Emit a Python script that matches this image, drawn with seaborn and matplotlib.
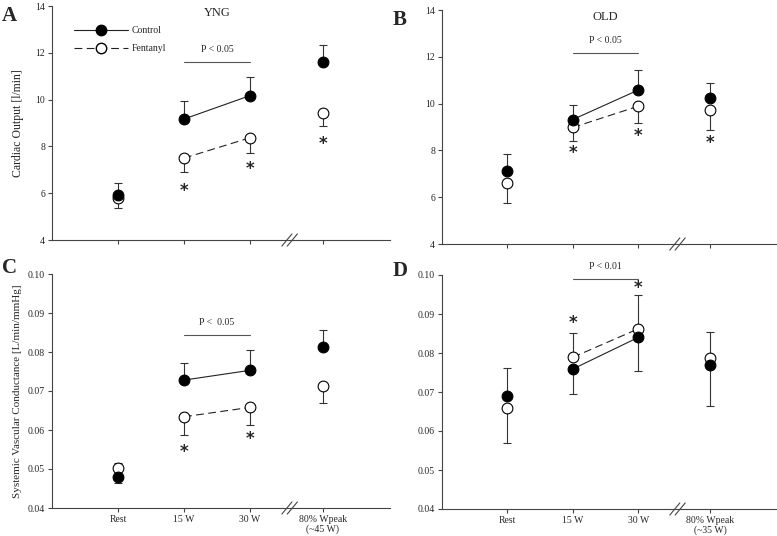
import matplotlib
matplotlib.use("Agg")
import matplotlib.pyplot as plt
import seaborn as sns
import numpy as np
from matplotlib.lines import Line2D

sns.set_style("ticks")
plt.rcParams["font.family"] = ["Liberation Serif", "DejaVu Serif"]

categories = ["Rest", "15 W", "30 W", "80% Wpeak"]
peak_labels = {"YNG": "(~45 W)", "OLD": "(~35 W)"}

# cardiac output [l/min], means and whisker ends
co_yng_ctrl = [5.92, 9.17, 10.17, 11.62]
co_yng_ctrl_end = [6.42, 9.94, 10.95, 12.33]
co_yng_fent = [5.81, 7.50, 8.37, 9.41]
co_yng_fent_end = [5.38, 6.89, 7.73, 8.89]
co_old_ctrl = [7.11, 9.32, 10.58, 10.23]
co_old_ctrl_end = [7.84, 9.92, 11.42, 10.90]
co_old_fent = [6.60, 8.98, 9.89, 9.72]
co_old_fent_end = [5.74, 8.42, 9.18, 8.89]

# systemic vascular conductance [L/min/mmHg]
svc_yng_ctrl = [0.0479, 0.0728, 0.0753, 0.0812]
svc_yng_ctrl_end = [0.0464, 0.0772, 0.0804, 0.0856]
svc_yng_fent = [0.0503, 0.0634, 0.0658, 0.0713]
svc_yng_fent_end = [0.0516, 0.0587, 0.0614, 0.0670]
svc_old_ctrl = [0.0691, 0.0759, 0.0840, 0.0769]
svc_old_ctrl_end = [0.0761, 0.0696, 0.0754, 0.0663]
svc_old_fent = [0.0659, 0.0789, 0.0862, 0.0787]
svc_old_fent_end = [0.0568, 0.0852, 0.0949, 0.0854]

# asterisks (category index, y) and significance bar (y, label)
co_yng_stars = [(1, 6.1), (2, 7.05), (3, 8.1)]
co_old_stars = [(1, 7.9), (2, 8.6), (3, 8.3)]
svc_yng_stars = [(1, 0.0544), (2, 0.0578)]
svc_old_stars = [(1, 0.0876), (2, 0.0966)]
sig_bars = {"A": (11.62, "P < 0.05"), "B": (12.17, "P < 0.05"),
            "C": (0.0843, "P <  0.05"), "D": (0.0991, "P < 0.01")}

xpos = np.array([0, 1, 2, 3.1])

fig = plt.figure(figsize=(7.77, 5.36), dpi=100)
W, H = 777, 536


def add_ax(left, top, right, bottom):
    return fig.add_axes([left / W, 1 - bottom / H, (right - left) / W, (bottom - top) / H])


axA = add_ax(52, 6, 390, 240)
axB = add_ax(442, 10, 777, 244)
axC = add_ax(52, 274, 390, 508)
axD = add_ax(442, 275, 777, 509)


def draw(ax, ctrl, ctrl_end, fent, fent_end, stars, ylim, yticks, fmt):
    ctrl, ctrl_end = np.array(ctrl), np.array(ctrl_end)
    fent, fent_end = np.array(fent), np.array(fent_end)
    for m, e in [(ctrl, ctrl_end), (fent, fent_end)]:
        lo = np.where(e < m, m - e, 0)
        hi = np.where(e > m, e - m, 0)
        ax.errorbar(xpos, m, yerr=[lo, hi], fmt="none", ecolor="#333333",
                    elinewidth=0.8, capsize=3, capthick=0.8, zorder=2)
    sns.lineplot(x=xpos[1:3], y=ctrl[1:3], color="#222222", lw=0.8, ax=ax, zorder=2)
    sns.lineplot(x=xpos[1:3], y=fent[1:3], color="#222222", lw=0.8, ax=ax,
                 dashes=(7, 4), zorder=2)
    sns.scatterplot(x=xpos, y=ctrl, s=60, color="black", edgecolor="black",
                    linewidth=0.8, ax=ax, zorder=4)
    sns.scatterplot(x=xpos, y=fent, s=60, color="white", edgecolor="black",
                    linewidth=0.8, ax=ax, zorder=3)
    for i, y in stars:
        ax.text(xpos[i], y, "*", ha="center", va="center", fontsize=12,
                fontweight="bold", fontfamily="DejaVu Sans")
    ax.set_xlim(-1.0, 4.12)
    ax.set_ylim(*ylim)
    ax.set_yticks(yticks)
    ax.set_yticklabels([fmt.format(t) for t in yticks], fontsize=7)
    ax.set_xticks(xpos)
    sns.despine(ax=ax)
    for s in ["left", "bottom"]:
        ax.spines[s].set_linewidth(0.8)
        ax.spines[s].set_color("#444444")
    ax.tick_params(length=3, width=0.8, color="#444444", pad=2)
    # axis break
    for dx in (0, 0.016):
        ax.plot([0.68 + dx, 0.71 + dx], [-0.026, 0.026], transform=ax.transAxes,
                color="#444444", lw=0.8, clip_on=False)


draw(axA, co_yng_ctrl, co_yng_ctrl_end, co_yng_fent, co_yng_fent_end, co_yng_stars,
     (4, 14), [4, 6, 8, 10, 12, 14], "{:.0f}")
draw(axB, co_old_ctrl, co_old_ctrl_end, co_old_fent, co_old_fent_end, co_old_stars,
     (4, 14), [4, 6, 8, 10, 12, 14], "{:.0f}")
draw(axC, svc_yng_ctrl, svc_yng_ctrl_end, svc_yng_fent, svc_yng_fent_end, svc_yng_stars,
     (0.04, 0.10), [0.04, 0.05, 0.06, 0.07, 0.08, 0.09, 0.10], "{:.2f}")
draw(axD, svc_old_ctrl, svc_old_ctrl_end, svc_old_fent, svc_old_fent_end, svc_old_stars,
     (0.04, 0.10), [0.04, 0.05, 0.06, 0.07, 0.08, 0.09, 0.10], "{:.2f}")

for key, ax, dy in [("A", axA, 0.35), ("B", axB, 0.35), ("C", axC, 0.002), ("D", axD, 0.002)]:
    y, lab = sig_bars[key]
    ax.plot([xpos[1], xpos[2]], [y, y], color="#555555", lw=0.8, clip_on=False)
    ax.text((xpos[1] + xpos[2]) / 2, y + dy, lab, ha="center", va="bottom",
            fontsize=7, clip_on=False)

for ax in (axA, axB):
    ax.set_xticklabels([])
for ax, grp in ((axC, "YNG"), (axD, "OLD")):
    ax.set_xticklabels(categories[:3] + [categories[3] + "\n" + peak_labels[grp]],
                       fontsize=7, linespacing=1.1)

for ax, grp in ((axA, "YNG"), (axB, "OLD")):
    ax.text(1.5, 0.995, grp, transform=ax.get_xaxis_transform(), ha="center", va="top",
            fontsize=9)
axA.set_ylabel("Cardiac Output [l/min]", fontsize=8.5, labelpad=8)
axC.set_ylabel("Systemic Vascular Conductance [L/min/mmHg]", fontsize=8.0, labelpad=4)

handles = [
    Line2D([], [], color="#222222", lw=0.8, marker="o", markersize=7.5,
           markerfacecolor="black", markeredgecolor="black"),
    Line2D([], [], color="#222222", lw=0.8, dashes=(7, 4), marker="o", markersize=7.5,
           markerfacecolor="white", markeredgecolor="black"),
]
axA.legend(handles, ["Control", "Fentanyl"], loc="upper left", bbox_to_anchor=(0.04, 0.95),
           frameon=False, fontsize=7, handlelength=5.5, handletextpad=0.4, labelspacing=0.9)

for letter, x, y in [("A", 2, 6), ("B", 393, 10), ("C", 2, 258), ("D", 393, 261)]:
    fig.text(x / W, 1 - y / H, letter, fontsize=15, fontweight="bold", va="top", ha="left")

fig.savefig("out.png", dpi=100)
